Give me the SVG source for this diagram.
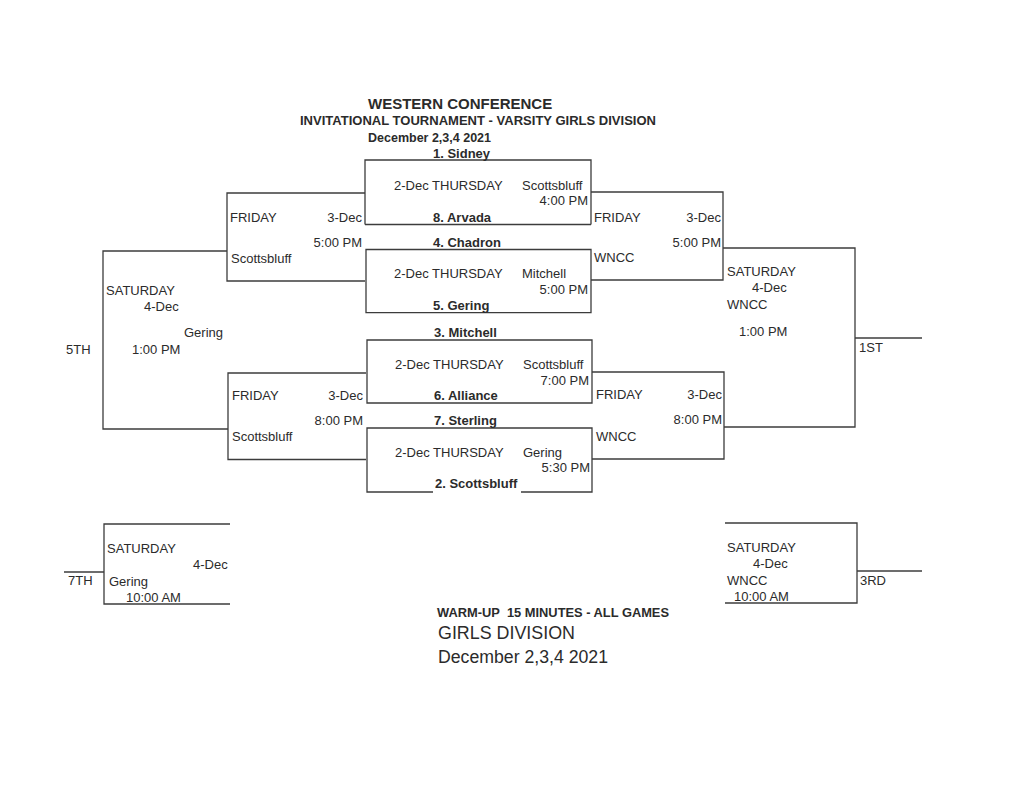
<svg xmlns="http://www.w3.org/2000/svg" width="1024" height="791" viewBox="0 0 1024 791">
<style>
text{font-family:"Liberation Sans",Arial,sans-serif;font-size:13px;fill:#2b2b2b}
.b{font-weight:bold}
.r{text-anchor:end}
.ln{fill:none;stroke:#3c3c3c;stroke-width:1.3}
</style>
<rect width="1024" height="791" fill="#ffffff"/>
<g id="title">
<text class="b" x="368" y="108.5" style="font-size:15px">WESTERN CONFERENCE</text>
<text class="b" x="300" y="125" textLength="356" lengthAdjust="spacingAndGlyphs">INVITATIONAL TOURNAMENT - VARSITY GIRLS DIVISION</text>
<text class="b" x="368" y="141.5" style="font-size:12.5px">December 2,3,4 2021</text>
</g>
<g id="game1">
<path class="ln" d="M365,224.5 V160 H591 V224.5 M365,224.5 H591"/>
<text class="b" x="433" y="157.5">1. Sidney</text>
<text x="394" y="189.5">2-Dec THURSDAY</text>
<text x="522" y="189.5">Scottsbluff</text>
<text class="r" x="588" y="205">4:00 PM</text>
<text class="b" x="433" y="221.5">8. Arvada</text>
</g>
<g id="game2">
<path class="ln" d="M366,249.5 H591 V312.7 H366 Z"/>
<text class="b" x="433" y="246.5">4. Chadron</text>
<text x="394" y="277.5">2-Dec THURSDAY</text>
<text x="522" y="277.5">Mitchell</text>
<text class="r" x="588" y="294">5:00 PM</text>
<text class="b" x="433" y="310">5. Gering</text>
</g>
<g id="game3">
<path class="ln" d="M367,340 H592 V403 H367 Z"/>
<text class="b" x="434" y="336.5">3. Mitchell</text>
<text x="395" y="368.5">2-Dec THURSDAY</text>
<text x="523" y="368.5">Scottsbluff</text>
<text class="r" x="589" y="384.5">7:00 PM</text>
<text class="b" x="434" y="399.5">6. Alliance</text>
</g>
<g id="game4">
<path class="ln" d="M433,492 H367 V428 H592 V492 H521"/>
<text class="b" x="434" y="424.5">7. Sterling</text>
<text x="395" y="456.5">2-Dec THURSDAY</text>
<text x="523" y="456.5">Gering</text>
<text class="r" x="590" y="471.5">5:30 PM</text>
<text class="b" x="435" y="488">2. Scottsbluff</text>
</g>
<g id="friday-left-1">
<text x="230" y="222">FRIDAY</text>
<text class="r" x="362" y="222">3-Dec</text>
<text class="r" x="362" y="246.5">5:00 PM</text>
<text x="231" y="262.5">Scottsbluff</text>
</g>
<g id="friday-left-2">
<text x="232" y="399.5">FRIDAY</text>
<text class="r" x="363" y="399.5">3-Dec</text>
<text class="r" x="363" y="424.5">8:00 PM</text>
<text x="232" y="440.5">Scottsbluff</text>
</g>
<g id="friday-right-1">
<text x="594" y="222">FRIDAY</text>
<text class="r" x="721" y="222">3-Dec</text>
<text class="r" x="721" y="246.5">5:00 PM</text>
<text x="594" y="261.5">WNCC</text>
</g>
<g id="friday-right-2">
<text x="596" y="398.5">FRIDAY</text>
<text class="r" x="722" y="398.5">3-Dec</text>
<text class="r" x="722" y="423.5">8:00 PM</text>
<text x="596" y="440.5">WNCC</text>
</g>
<g id="saturday-5th">
<text x="106" y="294.5">SATURDAY</text>
<text x="144" y="310.5">4-Dec</text>
<text x="184" y="337">Gering</text>
<text x="132" y="353.5">1:00 PM</text>
<text x="66" y="353.5">5TH</text>
</g>
<g id="saturday-1st">
<text x="727" y="275.5">SATURDAY</text>
<text x="752" y="292">4-Dec</text>
<text x="727" y="308.5">WNCC</text>
<text x="739" y="335.5">1:00 PM</text>
<text x="859" y="351.5">1ST</text>
</g>
<g id="saturday-7th">
<path class="ln" d="M230,524 H104 V604 H230"/>
<text x="107" y="553">SATURDAY</text>
<text x="193" y="569">4-Dec</text>
<text x="109" y="586">Gering</text>
<text x="126" y="602">10:00 AM</text>
<text x="68" y="584.5">7TH</text>
</g>
<g id="saturday-3rd">
<path class="ln" d="M725,523 H857 V603 H725"/>
<text x="727" y="552">SATURDAY</text>
<text x="753" y="568">4-Dec</text>
<text x="727" y="585">WNCC</text>
<text x="734" y="601">10:00 AM</text>
<text x="860" y="584.5">3RD</text>
</g>
<g id="connectors">
<path class="ln" d="M365,193 H227 V281 H365"/>
<path class="ln" d="M366,373 H228 V459.5 H366"/>
<path class="ln" d="M227,251 H103 V429 H228"/>
<path class="ln" d="M591,192 H723 V280 H591"/>
<path class="ln" d="M592,372 H724 V459 H592"/>
<path class="ln" d="M723,248 H855 V427 H724"/>
<path class="ln" d="M855,338 H922"/>
<path class="ln" d="M857,571 H922"/>
<path class="ln" d="M64,572 H104"/>
</g>
<g id="footer">
<text class="b" x="437" y="616.5" textLength="232" lengthAdjust="spacingAndGlyphs" style="font-size:12.5px">WARM-UP&#160; 15 MINUTES - ALL GAMES</text>
<text x="438" y="639" textLength="137" lengthAdjust="spacingAndGlyphs" style="font-size:18px">GIRLS DIVISION</text>
<text x="438" y="663" textLength="170" lengthAdjust="spacingAndGlyphs" style="font-size:18px">December 2,3,4 2021</text>
</g>
</svg>
